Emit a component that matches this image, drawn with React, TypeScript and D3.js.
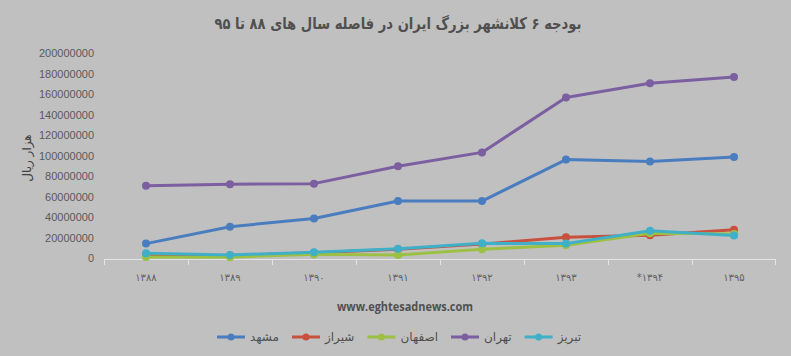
import React, { useEffect, useRef } from "react";
import * as d3 from "d3";

const title = "بودجه ۶ کلانشهر بزرگ ایران در فاصله سال های ۸۸ تا ۹۵";
const yTitle = "هزار ریال";
const watermark = "www.eghtesadnews.com";
const years = ["۱۳۸۸", "۱۳۸۹", "۱۳۹۰", "۱۳۹۱", "۱۳۹۲", "۱۳۹۳", "*۱۳۹۴", "۱۳۹۵"];
const yTicks = [0, 20000000, 40000000, 60000000, 80000000, 100000000, 120000000, 140000000, 160000000, 180000000, 200000000];

const mashhad = [15500000, 32000000, 40000000, 57000000, 57000000, 97500000, 95500000, 100000000];
const shiraz = [4500000, 4000000, 6500000, 10000000, 15000000, 21800000, 23700000, 29000000];
const isfahan = [2500000, 2300000, 5000000, 4500000, 10000000, 14000000, 25500000, 25000000];
const tehran = [72000000, 73500000, 74000000, 91000000, 104500000, 158000000, 172000000, 178000000];
const tabriz = [6000000, 4500000, 7000000, 10500000, 15800000, 15500000, 28000000, 23500000];

const seriesNames = ["مشهد", "شیراز", "اصفهان", "تهران", "تبریز"];
const seriesValues = [mashhad, shiraz, isfahan, tehran, tabriz];
const seriesColors = ["#4a7dbf", "#c8503c", "#9cc043", "#7c5fa0", "#40afc8"];

const W = 791;
const H = 356;

export default function App() {
  const ref = useRef<SVGSVGElement | null>(null);

  useEffect(() => {
    const svg = d3.select(ref.current);
    svg.selectAll("*").remove();

    svg.append("rect").attr("width", W).attr("height", H).attr("fill", "#c0c0c0");

    const x = d3.scaleBand<string>().domain(years).range([104, 776]);
    const y = d3.scaleLinear().domain([0, 200000000]).range([259.5, 54.5]);
    const cx = (i: number) => (x(years[i]) as number) + x.bandwidth() / 2;

    // title
    svg.append("text")
      .attr("x", 398).attr("y", 24)
      .attr("text-anchor", "middle").attr("dominant-baseline", "middle")
      .attr("font-family", "DejaVu Sans").attr("font-size", 16).attr("font-weight", "bold")
      .attr("textLength", 367).attr("lengthAdjust", "spacingAndGlyphs")
      .attr("fill", "#505050").text(title);

    // y labels
    const yl = svg.append("g");
    yTicks.forEach((t) => {
      yl.append("text")
        .attr("x", 94).attr("y", y(t))
        .attr("text-anchor", "end").attr("dominant-baseline", "middle")
        .attr("font-family", "Liberation Sans").attr("font-size", 11)
        .attr("fill", "#5a5a5a").text(String(t));
    });

    svg.append("text")
      .attr("transform", `translate(27,158) rotate(-90)`)
      .attr("text-anchor", "middle").attr("dominant-baseline", "middle")
      .attr("font-family", "DejaVu Sans").attr("font-size", 12)
      .attr("fill", "#404040").text(yTitle);

    // x axis
    const ax = svg.append("g");
    ax.append("line").attr("x1", 104).attr("x2", 776).attr("y1", 259.5).attr("y2", 259.5)
      .attr("stroke", "#e4e4e4").attr("stroke-width", 1);
    years.forEach((yr, i) => {
      const bx = x(yr) as number;
      ax.append("line").attr("x1", bx + 0.5).attr("x2", bx + 0.5).attr("y1", 259.5).attr("y2", 265)
        .attr("stroke", "#e4e4e4");
      ax.append("text")
        .attr("x", cx(i)).attr("y", 278)
        .attr("text-anchor", "middle").attr("dominant-baseline", "middle")
        .attr("font-family", "DejaVu Sans").attr("font-size", 10)
        .attr("fill", "#606060").text(yr);
    });
    ax.append("line").attr("x1", 775.5).attr("x2", 775.5).attr("y1", 259.5).attr("y2", 265)
      .attr("stroke", "#e4e4e4");

    // lines
    const line = d3.line<number>().x((_, i) => cx(i)).y((v) => y(v));
    seriesValues.forEach((vals, si) => {
      const g = svg.append("g");
      g.append("path").attr("d", line(vals) as string)
        .attr("fill", "none").attr("stroke", seriesColors[si]).attr("stroke-width", 3)
        .attr("stroke-linejoin", "round").attr("stroke-linecap", "round");
      vals.forEach((v, i) => {
        g.append("circle").attr("cx", cx(i)).attr("cy", y(v)).attr("r", 4)
          .attr("fill", seriesColors[si]);
      });
    });

    // watermark
    svg.append("text")
      .attr("x", 405).attr("y", 308)
      .attr("text-anchor", "middle").attr("dominant-baseline", "middle")
      .attr("font-family", "Open Sans").attr("font-size", 12).attr("font-weight", "bold")
      .attr("textLength", 136).attr("lengthAdjust", "spacingAndGlyphs")
      .attr("fill", "#505050").text(watermark);

    // legend
    const lg = svg.append("g");
    let lx = 217;
    const ly = 337;
    seriesNames.forEach((name, si) => {
      lg.append("line").attr("x1", lx).attr("x2", lx + 28).attr("y1", ly).attr("y2", ly)
        .attr("stroke", seriesColors[si]).attr("stroke-width", 3);
      lg.append("circle").attr("cx", lx + 14).attr("cy", ly).attr("r", 3.5).attr("fill", seriesColors[si]);
      const t = lg.append("text")
        .attr("x", lx + 33).attr("y", ly)
        .attr("text-anchor", "start").attr("dominant-baseline", "middle")
        .attr("font-family", "DejaVu Sans").attr("font-size", 12)
        .attr("fill", "#505050").text(name);
      const tw = (t.node() as SVGTextElement).getComputedTextLength();
      lx += 33 + tw + 13;
    });
  }, []);

  return (
    <svg ref={ref} width={W} height={H} style={{ position: "absolute", left: 0, top: 0 }} />
  );
}
